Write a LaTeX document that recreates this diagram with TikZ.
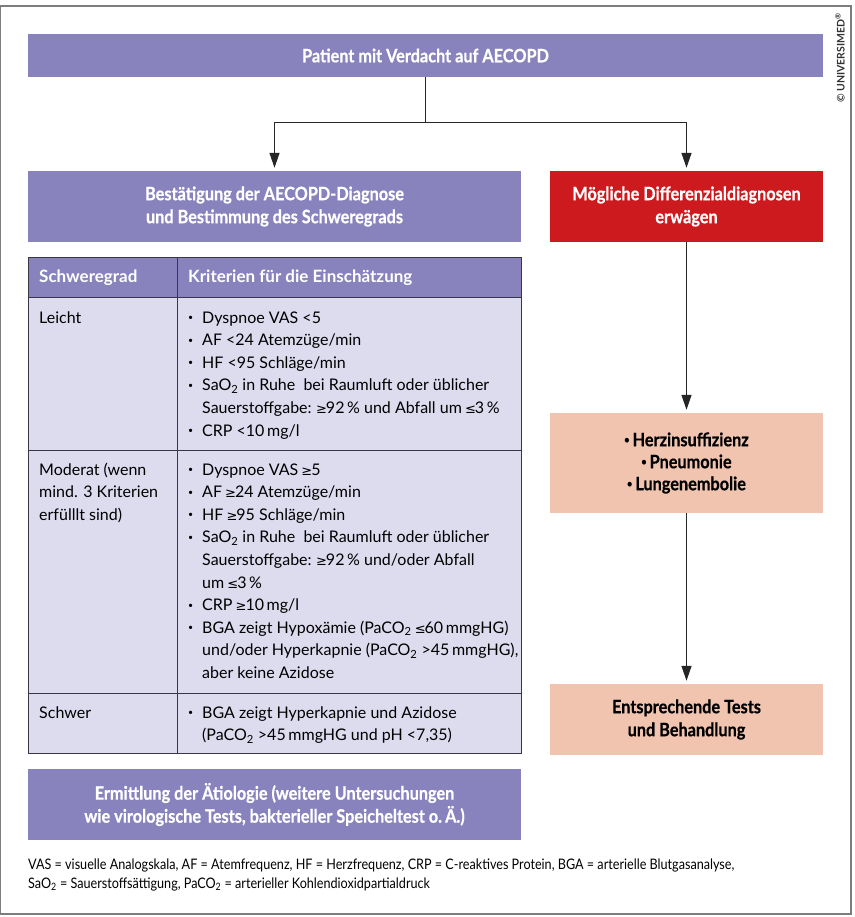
\documentclass[tikz,border=0pt]{standalone}
\usepackage{fontspec}
\setmainfont{Lato}
\newfontfamily\cond[FakeStretch=0.88, BoldFeatures={FakeBold=0.6}]{Lato}
\newfontfamily\condf[FakeStretch=0.87]{Lato}
\newfontfamily\symf{DejaVu Sans}
\usetikzlibrary{arrows.meta}
\definecolor{lila}{RGB}{137,131,189}
\definecolor{lilalight}{RGB}{221,219,238}
\definecolor{rot}{RGB}{204,26,30}
\definecolor{lachs}{RGB}{240,196,175}
\definecolor{rand}{RGB}{55,55,70}
\definecolor{rahmen}{RGB}{125,125,125}
\newcommand\gez{{\symf\fontsize{13}{13}\selectfont\kern-1pt≥\kern-1pt}}
\newcommand\lez{{\symf\fontsize{13}{13}\selectfont\kern-1pt≤\kern-1pt}}
\newcommand\smallbul{\raisebox{0.32ex}{\scalebox{0.55}{\textbullet}}}
\newcommand\bul{\makebox[15pt][l]{\kern1pt\smallbul}}
\newcommand\ind{\hspace*{15pt}}
\newcommand\subz{\textsubscript{2}}
\tikzset{
  box/.style={rectangle, inner sep=0pt, align=center, font=\cond\bfseries\fontsize{18.5}{23}\selectfont},
  lilabox/.style={box, fill=lila, text=white},
  rotbox/.style={box, fill=rot, text=white},
  lachsbox/.style={box, fill=lachs, text=black},
  cell/.style={rectangle, draw=rand, line width=1.4pt, inner sep=0pt, anchor=north west},
  celltext/.style={anchor=north west, inner sep=0pt, align=left, font=\fontsize{16}{22.6}\selectfont},
  headtext/.style={anchor=base west, inner sep=0pt, text=white, font=\bfseries\fontsize{17}{20}\selectfont},
  conn/.style={draw=black!85, line width=1.3pt},
  arr/.style={conn, -{Triangle[width=10pt,length=15pt]}, shorten >=3pt}
}
\begin{document}
\begin{tikzpicture}[x=1pt,y=-1pt]
\useasboundingbox (0,0) rectangle (854,917);
\draw[rahmen, line width=1.2pt] (0.8,6) rectangle (851,914);

% boxes
\node[lilabox, minimum width=795pt, minimum height=43pt] (top) at (425.5,55.5) {Patient mit Verdacht auf AECOPD};
\node[lilabox, minimum width=493pt, minimum height=71pt] (left) at (274.5,206.5) {Bestätigung der AECOPD-Diagnose\\und Bestimmung des Schweregrads};
\node[rotbox, minimum width=273pt, minimum height=71pt] (red) at (686.5,206.5) {Mögliche Differenzialdiagnosen\\erwägen};
\node[lachsbox, minimum width=273pt, minimum height=100pt, font=\cond\bfseries\fontsize{18.5}{22}\selectfont] (s1) at (686.5,463) {\smallbul\,Herzinsuffizienz\\\smallbul\,Pneumonie\\\smallbul\,Lungenembolie};
\node[lachsbox, minimum width=273pt, minimum height=71pt] (s2) at (686.5,719.5) {Entsprechende Tests\\und Behandlung};
\node[lilabox, minimum width=493pt, minimum height=71pt] (bottom) at (274.5,804.5) {Ermittlung der Ätiologie (weitere Untersuchungen\\wie virologische Tests, bakterieller Speicheltest o.\,Ä.)};

% connectors
\draw[conn] (top.south) -- ++(0,45) coordinate (split);
\draw[arr] (split) -| (left.north);
\draw[arr] (split) -| (red.north);
\draw[arr] (red.south) -- (s1.north);
\draw[arr] (s1.south) -- (s2.north);

% table cells
\node[cell, fill=lila, minimum width=149pt, minimum height=40pt] (h1) at (28,257) {};
\node[cell, fill=lila, minimum width=344pt, minimum height=40pt] (h2) at (177,257) {};
\node[cell, fill=lilalight, minimum width=149pt, minimum height=153pt] (r1a) at (28,297) {};
\node[cell, fill=lilalight, minimum width=344pt, minimum height=153pt] (r1b) at (177,297) {};
\node[cell, fill=lilalight, minimum width=149pt, minimum height=243pt] (r2a) at (28,450) {};
\node[cell, fill=lilalight, minimum width=344pt, minimum height=243pt] (r2b) at (177,450) {};
\node[cell, fill=lilalight, minimum width=149pt, minimum height=60pt] (r3a) at (28,693) {};
\node[cell, fill=lilalight, minimum width=344pt, minimum height=60pt] (r3b) at (177,693) {};

% header texts
\node[headtext] (t1) at ([xshift=11pt,yshift=-25pt]h1.north west) {Schweregrad};
\node[headtext] (t2) at ([xshift=11pt,yshift=-25pt]h2.north west) {Kriterien für die Einschätzung};

% cell texts
\node[celltext] (c1a) at ([xshift=11pt,yshift=-10pt]r1a.north west) {\strut Leicht};
\node[celltext] (c1b) at ([xshift=10pt,yshift=-10pt]r1b.north west) {\strut\bul Dyspnoe VAS <5\\
\bul AF <24 Atemzüge/min\\
\bul HF <95 Schläge/min\\
\bul SaO\subz{} in Ruhe\ \ bei Raumluft oder üblicher\\
\ind Sauerstoffgabe: \gez92\,\% und Abfall um \lez3\,\%\\
\bul CRP <10\,mg/l};

\node[celltext] (c2a) at ([xshift=11pt,yshift=-9pt]r2a.north west) {\strut Moderat (wenn\\mind. 3 Kriterien\\erfülllt sind)};
\node[celltext] (c2b) at ([xshift=10pt,yshift=-9pt]r2b.north west) {\strut\bul Dyspnoe VAS \gez5\\
\bul AF \gez24 Atemzüge/min\\
\bul HF \gez95 Schläge/min\\
\bul SaO\subz{} in Ruhe\ \ bei Raumluft oder üblicher\\
\ind Sauerstoffgabe: \gez92\,\% und/oder Abfall\\
\ind um \lez3\,\%\\
\bul CRP \gez10\,mg/l\\
\bul BGA zeigt Hypoxämie (PaCO\subz{} \lez60\,mmgHG)\\
\ind und/oder Hyperkapnie (PaCO\subz{} >45\,mmgHG),\\
\ind aber keine Azidose};

\node[celltext] (c3a) at ([xshift=11pt,yshift=-9pt]r3a.north west) {\strut Schwer};
\node[celltext] (c3b) at ([xshift=10pt,yshift=-9pt]r3b.north west) {\strut\bul BGA zeigt Hyperkapnie und Azidose\\
\ind (PaCO\subz{} >45\,mmgHG und pH <7,35)};

% footnote
\node[anchor=north west, inner sep=0pt, align=left, font=\condf\fontsize{14.5}{19}\selectfont] (foot) at (28,856) {\strut VAS = visuelle Analogskala, AF = Atemfrequenz, HF = Herzfrequenz, CRP = C-reaktives Protein, BGA = arterielle Blutgasanalyse,\\
SaO\subz{} = Sauerstoffsättigung, PaCO\subz{} = arterieller Kohlendioxidpartialdruck};

% copyright
\node[rotate=90, inner sep=0pt, font=\bfseries\fontsize{10.5}{10.5}\selectfont, text=black!80] (copy) at (840,58) {© UNIVERSIMED\textsuperscript{®}};
\end{tikzpicture}
\end{document}
